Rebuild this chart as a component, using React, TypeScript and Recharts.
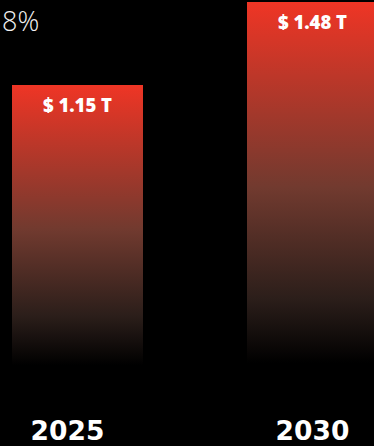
import React from "react";
import { BarChart, Bar, XAxis, YAxis, LabelList } from "recharts";

const years = ["2025", "2030"];
const values = [1.15, 1.48];
const headline = "8%";

const data = years.map((y, i) => ({ year: y, value: values[i] }));

const YearTick = (props: any) => {
  const { x, y, payload, index } = props;
  const dx = index === 0 ? -10 : 0;
  return (
    <text
      x={x + dx}
      y={y + 58}
      textAnchor="middle"
      fill="#ffffff"
      fontFamily="DejaVu Sans"
      fontWeight={700}
      fontSize={26.5}
    >
      {payload.value}
    </text>
  );
};

const ValueLabel = (props: any) => {
  const { x, y, width, value } = props;
  return (
    <text
      x={x + width / 2}
      y={y + 27}
      textAnchor="middle"
      fill="#ffffff"
      fontFamily="Open Sans"
      fontWeight={800}
      fontSize={18.5}
    >
      {`$ ${value.toFixed(2)} T`}
    </text>
  );
};

export default function App() {
  return (
    <div
      style={{
        position: "absolute",
        left: 0,
        top: 0,
        width: 374,
        height: 446,
        background: "#000",
        overflow: "hidden",
      }}
    >
      <div style={{ marginLeft: -40, width: 470 }}>
        <BarChart
          width={470}
          height={446}
          data={data}
          margin={{ top: 0, right: 0, left: 0, bottom: 0 }}
        >
          <defs>
            <linearGradient id="barGrad" x1="0" y1="0" x2="0" y2="1">
              <stop offset="0" stopColor="#ef3525" />
              <stop offset="0.5" stopColor="#713a2f" />
              <stop offset="0.8" stopColor="#2b1e1a" />
              <stop offset="0.97" stopColor="#000000" />
              <stop offset="1" stopColor="#000000" />
            </linearGradient>
          </defs>
          <XAxis
            dataKey="year"
            height={72}
            axisLine={false}
            tickLine={false}
            tick={<YearTick />}
            interval={0}
          />
          <YAxis hide domain={[0, 1.488]} />
          <Bar
            dataKey="value"
            barSize={131}
            fill="url(#barGrad)"
            isAnimationActive={false}
          >
            <LabelList dataKey="value" content={<ValueLabel />} />
          </Bar>
        </BarChart>
      </div>
      <svg
        width={374}
        height={60}
        style={{ position: "absolute", left: 0, top: 0 }}
      >
        <text
          x={2}
          y={31}
          fill="#f2f2f2"
          fontFamily="Open Sans"
          fontWeight={300}
          fontSize={27}
        >
          {headline}
        </text>
      </svg>
    </div>
  );
}
